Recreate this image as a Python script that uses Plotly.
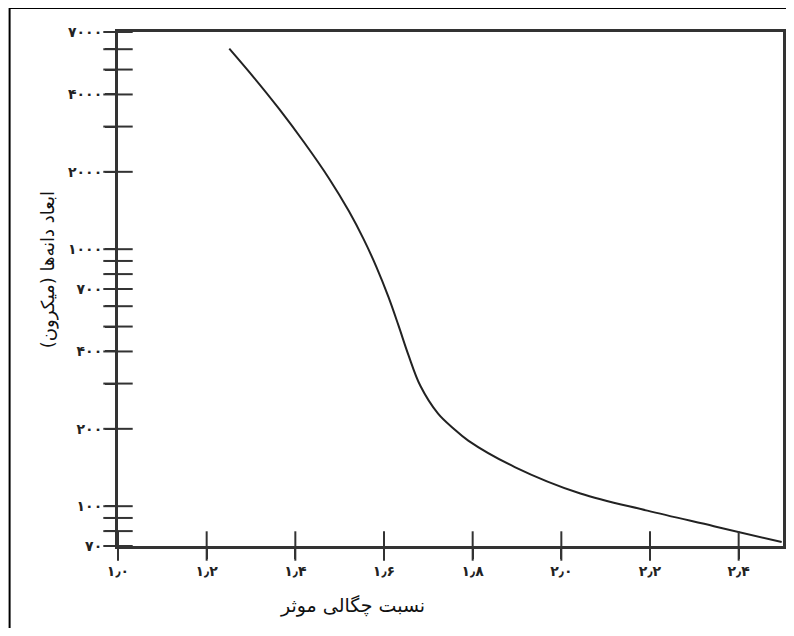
import numpy as np
import plotly.graph_objects as go

# Data (effective density ratio vs particle size, microns)
density_ratio = [1.251, 1.307, 1.363, 1.420, 1.476, 1.521, 1.554, 1.583, 1.610, 1.633,
                 1.655, 1.682, 1.722, 1.756, 1.790, 1.895, 2.043, 2.194, 2.344, 2.497]
particle_size = [6030, 4643, 3521, 2600, 1885, 1404, 1094, 852, 652, 503,
                 388, 294, 229, 201, 180, 142, 112, 96.1, 83.6, 72.5]

x_tickvals = [1.0, 1.2, 1.4, 1.6, 1.8, 2.0, 2.2, 2.4]
x_ticktext = ["۱٫۰", "۱٫۲", "۱٫۴", "۱٫۶", "۱٫۸", "۲٫۰", "۲٫۲", "۲٫۴"]
y_tickvals = [70, 80, 90, 100, 200, 300, 400, 500, 600, 700, 800, 900,
              1000, 2000, 3000, 4000, 5000, 6000, 7000]
y_labels = {70: "۷۰", 100: "۱۰۰", 200: "۲۰۰", 400: "۴۰۰", 700: "۷۰۰",
            1000: "۱۰۰۰", 2000: "۲۰۰۰", 4000: "۴۰۰۰", 7000: "۷۰۰۰"}
y_ticktext = [y_labels.get(v, "") for v in y_tickvals]

x_title = "نسبت چگالی موثر"
y_title = "ابعاد دانه\u200cها (میکرون)"

x_min, x_max = 1.0, 2.5
y_min, y_max = 70, 7000

axis_color = "#333333"
tick_font = dict(family="DejaVu Sans", size=14, color="#222222", weight="bold")

fig = go.Figure()

fig.add_trace(go.Scatter(
    x=density_ratio, y=particle_size, mode="lines",
    line=dict(color="#222222", width=2, shape="spline", smoothing=1.0),
    hoverinfo="skip", showlegend=False,
))

# crossing tick marks (straddling the axis lines, as in the scanned figure)
fig.add_trace(go.Scatter(
    x=[x_min] * len(y_tickvals), y=y_tickvals, mode="markers", cliponaxis=False,
    marker=dict(symbol="line-ew", size=21, line=dict(width=2, color=axis_color)),
    hoverinfo="skip", showlegend=False,
))
fig.add_trace(go.Scatter(
    x=x_tickvals, y=[y_min] * len(x_tickvals), mode="markers", cliponaxis=False,
    marker=dict(symbol="line-ns", size=21, line=dict(width=2, color=axis_color)),
    hoverinfo="skip", showlegend=False,
))

fig.update_layout(
    width=778, height=620,
    margin=dict(l=110, r=0, t=24, b=82),
    paper_bgcolor="white", plot_bgcolor="white",
    xaxis=dict(
        range=[x_min, x_max], tickvals=x_tickvals, ticktext=x_ticktext,
        ticks="outside", ticklen=10, tickwidth=2, tickcolor=axis_color,
        showline=True, linewidth=3, linecolor=axis_color, mirror=True,
        showgrid=False, zeroline=False, tickfont=tick_font,
    ),
    yaxis=dict(
        type="log", range=[np.log10(y_min), np.log10(y_max)],
        tickvals=y_tickvals, ticktext=y_ticktext,
        ticks="outside", ticklen=10, tickwidth=2, tickcolor=axis_color,
        showline=True, linewidth=3, linecolor=axis_color, mirror=True,
        showgrid=False, zeroline=False, tickfont=tick_font,
    ),
)

fig.add_annotation(
    text=x_title, xref="paper", yref="paper", x=0.352, y=-0.115,
    showarrow=False, font=dict(family="DejaVu Sans", size=19, color="#111111"),
    xanchor="center", yanchor="middle",
)
fig.add_annotation(
    text=y_title, xref="paper", yref="paper", x=-0.105, y=0.537,
    showarrow=False, textangle=-90,
    font=dict(family="DejaVu Sans", size=18, color="#111111"),
    xanchor="center", yanchor="middle",
)

# outer image frame (open at right and bottom, as in the scan)
fig.add_shape(type="line", xref="paper", yref="paper",
              x0=-0.163, y0=1.0467, x1=1.2, y1=1.0467,
              line=dict(color="black", width=2))
fig.add_shape(type="line", xref="paper", yref="paper",
              x0=-0.163, y0=1.0467, x1=-0.163, y1=-0.3,
              line=dict(color="black", width=2))

fig.write_html("out.html")
